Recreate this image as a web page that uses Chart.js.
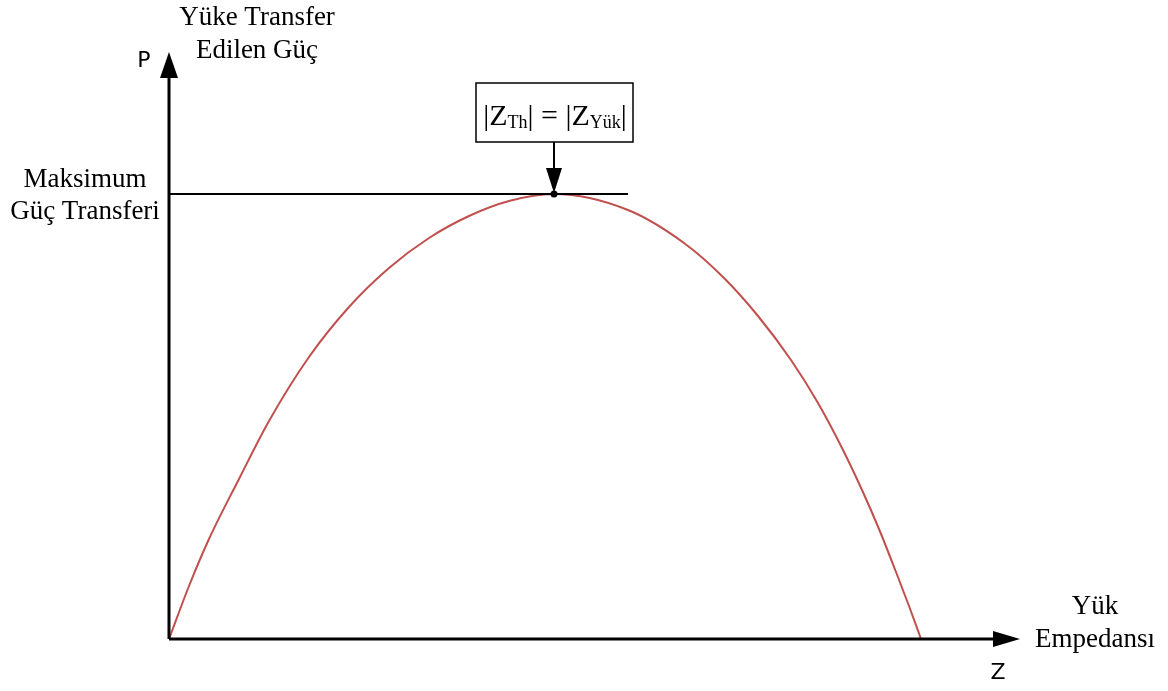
<!DOCTYPE html>
<html>
<head>
<meta charset="utf-8">
<script src="https://cdn.jsdelivr.net/npm/chart.js@4"></script>
<style>
  html, body { margin: 0; padding: 0; background: #fff; }
  #wrap { width: 1168px; height: 691px; }
</style>
</head>
<body>
<div id="wrap"><canvas id="myChart" width="1168" height="691"></canvas></div>
<script>
// curve (arbitrary units)
const zVals = [0, 20, 40, 70, 100, 140, 180, 220, 260, 300, 340, 385,
  459, 515, 555, 589, 622, 649, 673, 693, 710, 727, 740, 752];
const pVals = [0, 53, 100, 160, 218, 282, 332, 371, 401, 423, 438, 445,
  429, 396, 361, 323, 279, 236, 191, 149, 110, 67, 33, 0];
const zMax = 851;
const pMax = 587;
const maxLineEnd = 459;

const yTitle = ['Yüke Transfer', 'Edilen Güç'];
const xTitle = ['Yük', 'Empedansı'];
const maxLabel = ['Maksimum', 'Güç Transferi'];
const yAxisName = 'P';
const xAxisName = 'Z';

const serif = '"Liberation Serif", "Times New Roman", serif';
const sans = '"DejaVu Sans", sans-serif';

const points = zVals.map((z, i) => ({ x: z, y: pVals[i] }));

function arrowHead(ctx, tipX, tipY, dir, len, half) {
  ctx.beginPath();
  if (dir === 'up') {
    ctx.moveTo(tipX, tipY);
    ctx.lineTo(tipX - half, tipY + len);
    ctx.lineTo(tipX + half, tipY + len);
  } else if (dir === 'right') {
    ctx.moveTo(tipX, tipY);
    ctx.lineTo(tipX - len, tipY - half);
    ctx.lineTo(tipX - len, tipY + half);
  } else {
    ctx.moveTo(tipX, tipY);
    ctx.lineTo(tipX - half, tipY - len);
    ctx.lineTo(tipX + half, tipY - len);
  }
  ctx.closePath();
  ctx.fill();
}

const overlay = {
  id: 'overlay',
  afterDatasetsDraw(chart) {
    const ctx = chart.ctx;
    const xs = chart.scales.x, ys = chart.scales.y;
    const x0 = xs.getPixelForValue(0), y0 = ys.getPixelForValue(0);
    const xEnd = xs.getPixelForValue(zMax), yEnd = ys.getPixelForValue(pMax);
    const peakP = Math.max(...pVals);
    const peakZ = zVals[pVals.indexOf(peakP)];
    const px = xs.getPixelForValue(peakZ), py = ys.getPixelForValue(peakP);

    ctx.save();
    ctx.fillStyle = '#000';
    ctx.strokeStyle = '#000';

    // max power line
    ctx.lineWidth = 2;
    ctx.beginPath();
    ctx.moveTo(x0, py);
    ctx.lineTo(xs.getPixelForValue(maxLineEnd), py);
    ctx.stroke();

    // axes
    ctx.lineWidth = 3;
    ctx.beginPath();
    ctx.moveTo(x0, y0);
    ctx.lineTo(x0, yEnd + 20);
    ctx.moveTo(x0, y0);
    ctx.lineTo(xEnd - 20, y0);
    ctx.stroke();
    arrowHead(ctx, x0, yEnd, 'up', 26, 9);
    arrowHead(ctx, xEnd, y0, 'right', 27, 8);

    // annotation box
    const bx = px - 78, by = 83, bw = 157, bh = 59;
    ctx.lineWidth = 1.5;
    ctx.fillStyle = '#fff';
    ctx.fillRect(bx, by, bw, bh);
    ctx.strokeRect(bx, by, bw, bh);
    ctx.fillStyle = '#000';

    // arrow from box to peak
    ctx.lineWidth = 2;
    ctx.beginPath();
    ctx.moveTo(px, by + bh);
    ctx.lineTo(px, py - 20);
    ctx.stroke();
    arrowHead(ctx, px, py - 1, 'down', 25, 8);
    ctx.beginPath();
    ctx.arc(px, py, 3.5, 0, Math.PI * 2);
    ctx.fill();

    // box text: |Z_Th| = |Z_Yük|
    const big = '30px ' + serif, small = '18px ' + serif;
    const parts = [
      ['|Z', big, 0], ['Th', small, 3], ['|', big, 0], [' = ', big, 0],
      ['|Z', big, 0], ['Yük', small, 3], ['|', big, 0]
    ];
    let total = 0;
    parts.forEach(p => { ctx.font = p[1]; p.push(ctx.measureText(p[0]).width); total += p[3]; });
    let cx = px - total / 2 + 1;
    const base = 125;
    ctx.textBaseline = 'alphabetic';
    ctx.textAlign = 'left';
    parts.forEach(p => {
      ctx.font = p[1];
      ctx.fillText(p[0], cx, base + p[2]);
      cx += p[3];
    });

    // titles
    ctx.textAlign = 'center';
    ctx.textBaseline = 'middle';
    ctx.font = '27px ' + serif;
    ctx.fillText(yTitle[0], 257, 18);
    ctx.fillText(yTitle[1], 257, 51);
    ctx.fillText(maxLabel[0], 85, 180);
    ctx.fillText(maxLabel[1], 85, 212);
    ctx.fillText(xTitle[0], 1095, 607);
    ctx.fillText(xTitle[1], 1095, 640);

    ctx.font = '22px ' + sans;
    ctx.fillText(yAxisName, 144, 61);
    ctx.fillText(xAxisName, 998, 673);
    ctx.restore();
  }
};

new Chart(document.getElementById('myChart').getContext('2d'), {
  type: 'line',
  data: {
    datasets: [{
      data: points,
      borderColor: '#c0504d',
      borderWidth: 2,
      pointRadius: 0,
      fill: false,
      cubicInterpolationMode: 'monotone'
    }]
  },
  options: {
    responsive: false,
    animation: false,
    layout: { padding: { left: 169, right: 148, top: 52, bottom: 52 } },
    plugins: { legend: { display: false }, tooltip: { enabled: false } },
    scales: {
      x: { type: 'linear', min: 0, max: zMax, display: false },
      y: { type: 'linear', min: 0, max: pMax, display: false }
    }
  },
  plugins: [overlay]
});
</script>
</body>
</html>
